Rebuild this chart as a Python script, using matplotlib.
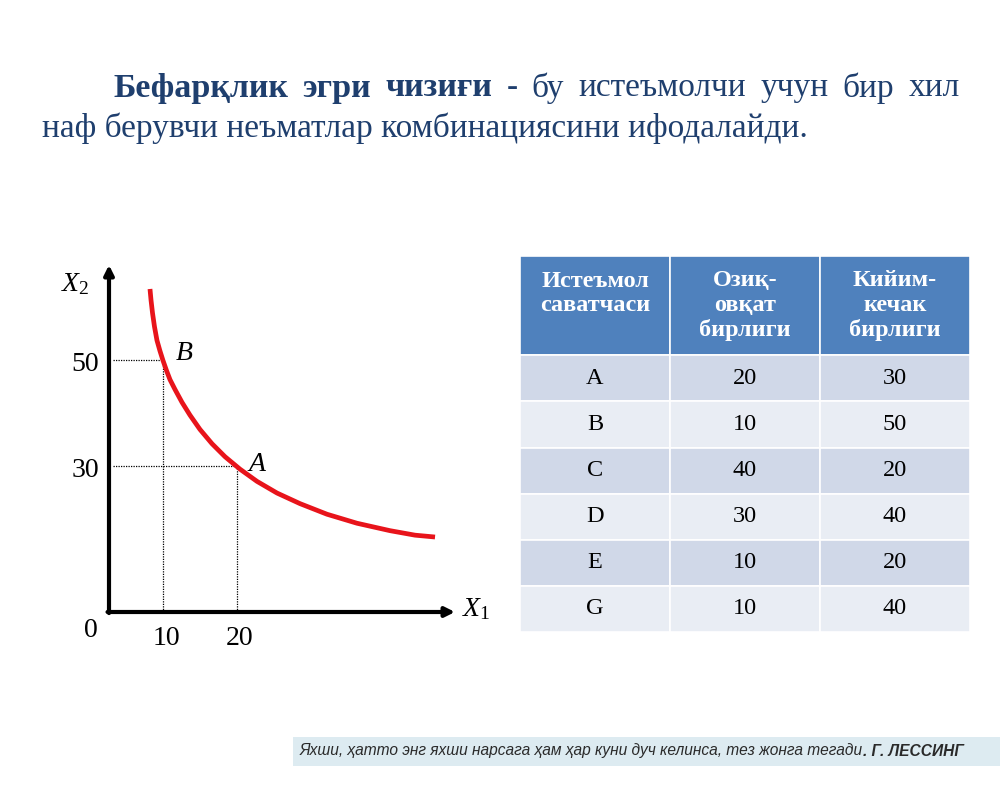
import matplotlib
matplotlib.use("Agg")
import matplotlib.pyplot as plt
from matplotlib.patches import Rectangle

plt.rcParams['mathtext.fontset'] = 'custom'
plt.rcParams['mathtext.rm'] = 'Liberation Serif'
plt.rcParams['mathtext.it'] = 'Liberation Serif:italic'

# ---------------- data ----------------
curve_x = [8.23, 8.37, 8.57, 8.84, 9.18, 9.59, 10.0, 10.48, 10.95, 11.63, 12.59, 13.67,
           15.03, 16.67, 18.44, 20.48, 22.79, 25.51, 28.64, 32.31, 36.39, 40.88, 44.29, 47.01]
curve_y = [63.4, 61.3, 58.9, 56.3, 53.7, 51.7, 49.9, 48.0, 46.3, 44.45, 42.0, 39.6,
           36.9, 34.2, 31.75, 29.4, 27.1, 24.9, 22.9, 20.9, 19.2, 17.8, 16.95, 16.6]
point_names = ['B', 'A']
point_x = [10, 20]
point_y = [50, 30]

table_header = ["Истеъмол\nсаватчаси\n", "Озиқ-\nовқат\nбирлиги", "Кийим-\nкечак\nбирлиги"]
baskets = ['A', 'B', 'C', 'D', 'E', 'G']
food_units = [20, 10, 40, 30, 10, 10]
clothes_units = [30, 50, 20, 40, 20, 40]

title_bold_words = ["Бефарқлик", "эгри", "чизиғи"]
title_line1_words = ["-", "бу", "истеъмолчи", "учун", "бир", "хил"]
title_line2 = "наф берувчи неъматлар комбинациясини ифодалайди."
quote_text = "Яхши, ҳатто энг яхши нарсага ҳам ҳар куни дуч келинса, тез жонга тегади"
quote_author = ". Г. ЛЕССИНГ"

W, H = 1000, 792
fig = plt.figure(figsize=(W / 100, H / 100), dpi=100)
fig.patch.set_facecolor('white')

def fx(px):
    return px / W

def fy(py):
    return 1 - py / H

title_color = '#1F3F6E'
serif = 'Liberation Serif'

# ---------------- title (justified first line) ----------------
fs_bold = 24.5
fs_reg = 24
renderer = fig.canvas.get_renderer()
items = []
for w in title_bold_words:
    t = fig.text(0, fy(88), w, fontsize=fs_bold, fontweight='bold', family=serif,
                 color=title_color, va='center', ha='left')
    items.append(t)
for w in title_line1_words:
    t = fig.text(0, fy(88), w, fontsize=fs_reg, family=serif,
                 color=title_color, va='center', ha='left')
    items.append(t)
widths = [t.get_window_extent(renderer).width for t in items]
left, right = 113, 960
gap = (right - left - sum(widths)) / (len(items) - 1)
x = left
for t, wd in zip(items, widths):
    t.set_x(fx(x))
    x += wd + gap
fig.text(fx(42), fy(128), title_line2, fontsize=fs_reg, family=serif,
         color=title_color, va='center', ha='left')

# ---------------- chart ----------------
sx, sy = 7.35, 5.3            # pixels per data unit
x0p, y0p = 89.5, 625           # pixel position of data (0, 0)
ax_l, ax_r, ax_t = 89.5, 470, 255
ax = fig.add_axes([fx(ax_l), fy(y0p), (ax_r - ax_l) / W, (y0p - ax_t) / H])
ax.set_xlim(0, (ax_r - ax_l) / sx)
ax.set_ylim(0, (y0p - ax_t) / sy)
ax.axis('off')

xa = (109 - x0p) / sx          # data x of the vertical axis line
ya = (y0p - 612) / sy          # data y of the horizontal axis line

ax.plot(curve_x, curve_y, color='#E8141B', lw=3.4, solid_capstyle='butt',
        solid_joinstyle='round', zorder=3)

for px_, py_ in zip(point_x, point_y):
    ax.plot([xa + 0.5, px_], [py_, py_], color='black', lw=0.9, ls=(0, (1, 1)), zorder=2)
    ax.plot([px_, px_], [ya, py_], color='black', lw=0.9, ls=(0, (1, 1)), zorder=2)

ax.annotate('', xy=((455 - x0p) / sx, ya), xytext=(xa - 0.2, ya),
            arrowprops=dict(arrowstyle='-|>', lw=3, color='black', mutation_scale=14,
                            shrinkA=0, shrinkB=0), annotation_clip=False)
ax.annotate('', xy=(xa, (y0p - 265) / sy), xytext=(xa, ya - 0.2),
            arrowprops=dict(arrowstyle='-|>', lw=3, color='black', mutation_scale=14,
                            shrinkA=0, shrinkB=0), annotation_clip=False)

fs_ax = 20
for v in point_y:
    ax.text((99 - x0p) / sx, v - 0.8, str(v), fontsize=fs_ax, family=serif,
            ha='right', va='center')
for v in point_x:
    ax.text(v + 0.4, (y0p - 626) / sy, str(v), fontsize=fs_ax, family=serif,
            ha='center', va='top')
ax.text((98 - x0p) / sx, (y0p - 618) / sy, '0', fontsize=fs_ax, family=serif,
        ha='right', va='top')

ax.text((90 - x0p) / sx, (y0p - 283) / sy, r'$\mathit{X}_{\mathrm{2}}$', fontsize=20,
        ha='right', va='center')
ax.text((462 - x0p) / sx, (y0p - 608) / sy, r'$\mathit{X}_{\mathrm{1}}$', fontsize=20,
        ha='left', va='center')

label_off = [(1.8, -1.2), (1.6, -2.1)]
for n, px_, py_, off in zip(point_names, point_x, point_y, label_off):
    ax.text(px_ + off[0], py_ + off[1], n, fontsize=20, family=serif, style='italic',
            ha='left', va='bottom')

# ---------------- table ----------------
tl, tr, tt, tb = 520, 970, 256, 632
tax = fig.add_axes([fx(tl), fy(tb), (tr - tl) / W, (tb - tt) / H])
tax.axis('off')
cell_text = [[b, str(f), str(c)] for b, f, c in zip(baskets, food_units, clothes_units)]
tbl = tax.table(cellText=cell_text, colLabels=table_header, cellLoc='center',
                bbox=[0, 0, 1, 1])
tbl.auto_set_font_size(False)
header_h = 99
row_h = 46
for (r, c), cell in tbl.get_celld().items():
    cell.set_edgecolor('white')
    cell.set_linewidth(1.2)
    txt = cell.get_text()
    txt.set_family(serif)
    if r == 0:
        cell.set_height(header_h)
        cell.set_facecolor('#4F81BD')
        txt.set_color('white')
        txt.set_fontweight('bold')
        txt.set_fontsize(17.5)
        txt.set_linespacing(1.22)
    else:
        cell.set_height(row_h)
        cell.set_facecolor('#D0D8E8' if r % 2 == 1 else '#E9EDF4')
        txt.set_color('black')
        txt.set_fontsize(17.5)

# ---------------- footer quote ----------------
fig.patches.append(Rectangle((fx(293), fy(766)), fx(1000 - 293), 29 / H,
                             transform=fig.transFigure, facecolor='#DDEBF1',
                             edgecolor='none', zorder=0))
t1 = fig.text(fx(300), fy(751), quote_text, fontsize=11.2, family='Liberation Sans',
              style='italic', color='#2A2A2A', va='center', ha='left')
fig.canvas.draw()
bb = t1.get_window_extent()
fig.text(bb.x1 / W, fy(751), quote_author, fontsize=11.2, family='Liberation Sans',
         style='italic', fontweight='bold', color='#2A2A2A', va='center', ha='left')

fig.savefig('out.png', dpi=100, facecolor='white')
